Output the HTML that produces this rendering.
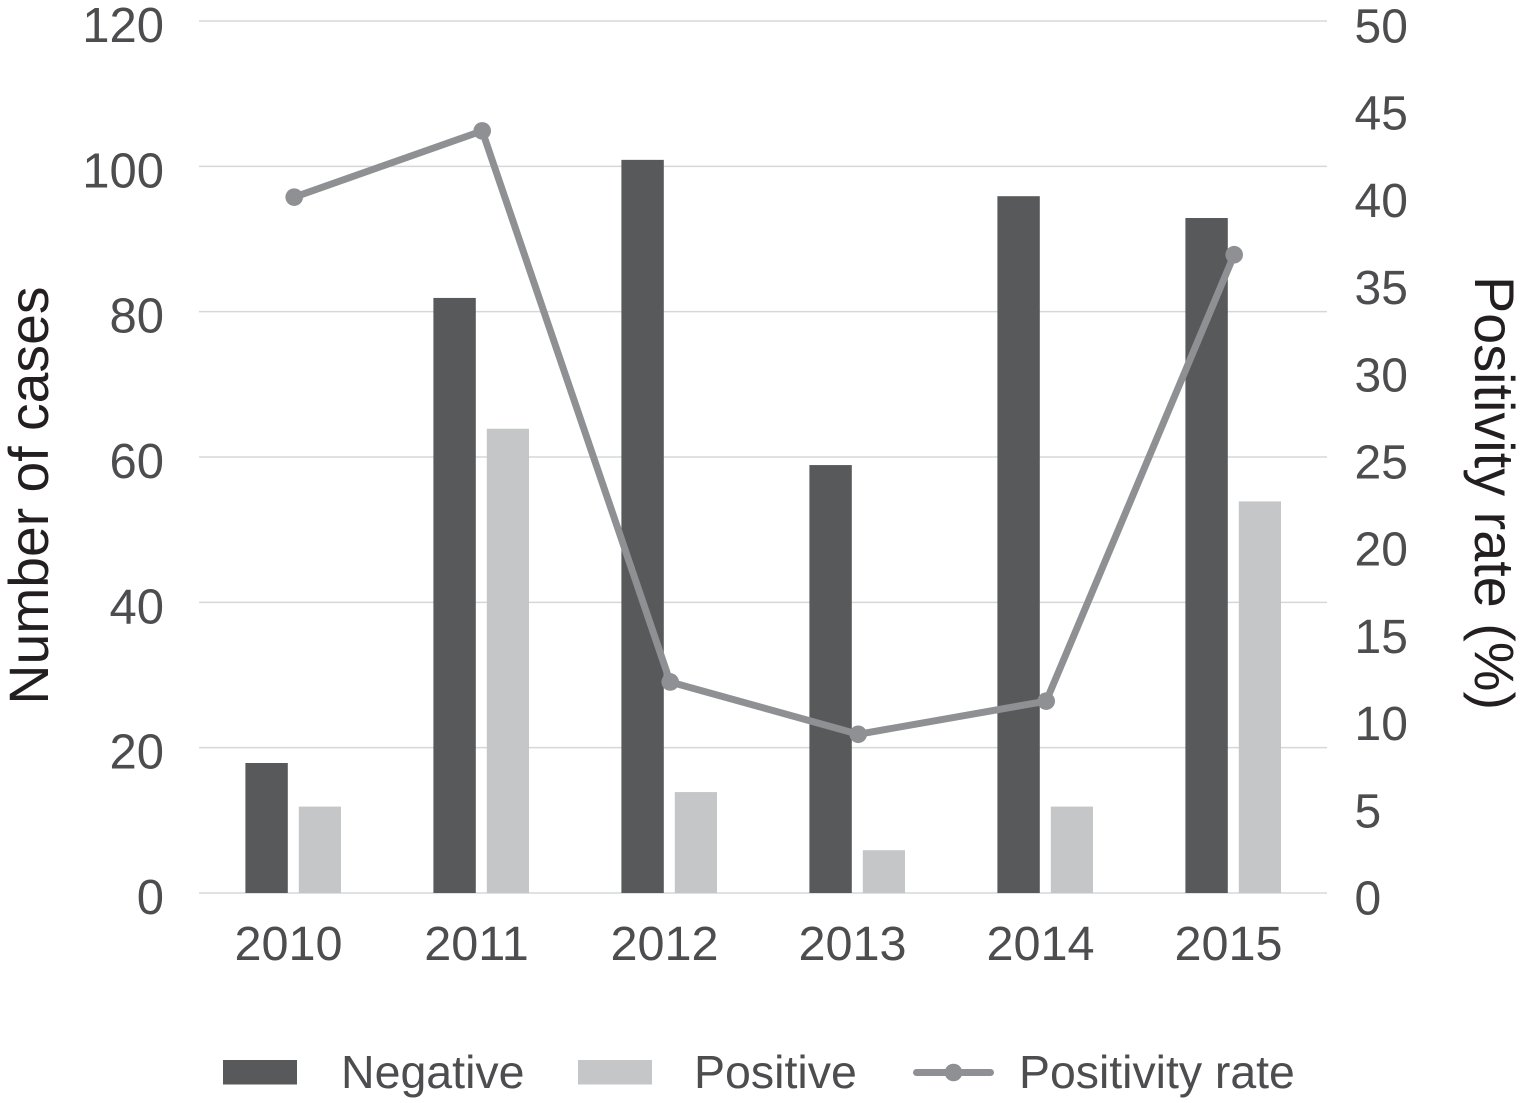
<!DOCTYPE html>
<html>
<head>
<meta charset="utf-8">
<style>
html,body{margin:0;padding:0;background:#fff;}
svg{display:block;}
text{font-family:"Liberation Sans",Arial,sans-serif;}
</style>
</head>
<body>
<svg id="chart" width="1522" height="1103" viewBox="0 0 1522 1103" xmlns="http://www.w3.org/2000/svg">
  <g id="grid"></g>
  <g id="bars"></g>
  <g id="line"></g>
  <g id="yl"></g>
  <g id="yr"></g>
  <g id="xl"></g>
  <text transform="translate(48,495.5) rotate(-90)" text-anchor="middle" font-size="55.3" fill="#231f20">Number of cases</text>
  <text transform="translate(1475,493) rotate(90)" text-anchor="middle" font-size="55.8" fill="#231f20">Positivity rate (%)</text>
  <g>
    <rect x="223" y="1060" width="74" height="24.5" fill="#58595b"/>
    <text x="341" y="1088" font-size="46.5" fill="#4d4d4f">Negative</text>
    <rect x="578" y="1060" width="74" height="24.5" fill="#c4c6c8"/>
    <text x="694" y="1088" font-size="46.5" fill="#4d4d4f">Positive</text>
    <line x1="916.5" y1="1072.5" x2="990.5" y2="1072.5" stroke="#8e9093" stroke-width="7" stroke-linecap="round"/>
    <circle cx="953.5" cy="1072.5" r="8.8" fill="#8e9093"/>
    <text x="1019" y="1088" font-size="46.4" fill="#4d4d4f">Positivity rate</text>
  </g>
</svg>
<script>
const years = ["2010","2011","2012","2013","2014","2015"];
const negative = [18,82,101,59,96,93];
const positive = [12,64,14,6,12,54];
const positivityRate = [39.9,43.7,12.1,9.1,11.0,36.6];
const leftTicks = [0,20,40,60,80,100,120];
const rightTicks = [0,5,10,15,20,25,30,35,40,45,50];

const NS = "http://www.w3.org/2000/svg";
const plotLeft = 199, plotRight = 1327, plotBottom = 893, plotTop = 21;
const barTopInset = 0.8;
const yLeft = v => plotBottom - v / 120 * (plotBottom - plotTop);
const yRight = v => plotBottom - v / 50 * (plotBottom - plotTop);
const xCenter = i => 291 + i * 188;
function mk(parent, tag, attrs, text) {
  const el = document.createElementNS(NS, tag);
  for (const k in attrs) el.setAttribute(k, attrs[k]);
  if (text !== undefined) el.textContent = text;
  document.getElementById(parent).appendChild(el);
  return el;
}
leftTicks.forEach(t => {
  const g = mk("grid", "line", {x1: plotLeft, x2: plotRight, y1: yLeft(t), y2: yLeft(t), stroke: "#d6d7d9", "stroke-width": 1.5});
  
  
  const l = mk("yl", "text", {x: 164, y: yLeft(t) + 21, "text-anchor": "end", "font-size": 49, fill: "#4d4d4f"}, t);
  
  
});
rightTicks.forEach(t => {
  const l = mk("yr", "text", {x: 1354.5, y: yRight(t) + 21.5, "font-size": 48, fill: "#4d4d4f"}, t);
  
  
});
years.forEach((y, i) => {
  const c = xCenter(i);
  const n = mk("bars", "rect", {x: c - 45.6, y: yLeft(negative[i]) + barTopInset, width: 42.4, height: plotBottom - yLeft(negative[i]) - barTopInset, fill: "#58595b"});
  
  
  const p = mk("bars", "rect", {x: c + 7.8, y: yLeft(positive[i]) + barTopInset, width: 42.2, height: plotBottom - yLeft(positive[i]) - barTopInset, fill: "#c4c6c8"});
  
  
  const l = mk("xl", "text", {x: c - 2.5, y: 960, "text-anchor": "middle", "font-size": 48.6, fill: "#4d4d4f"}, y);
  
  
});
const pts = positivityRate.map((v, i) => (xCenter(i) + 3.2) + "," + yRight(v)).join(" ");
const pl = mk("line", "polyline", {points: pts, fill: "none", stroke: "#8e9093", "stroke-width": 7, "stroke-linejoin": "round"});


positivityRate.forEach((v, i) => {
  const c = mk("line", "circle", {cx: xCenter(i) + 3.2, cy: yRight(v), r: 8.8, fill: "#8e9093"});
  
  
});
</script>
</body>
</html>
